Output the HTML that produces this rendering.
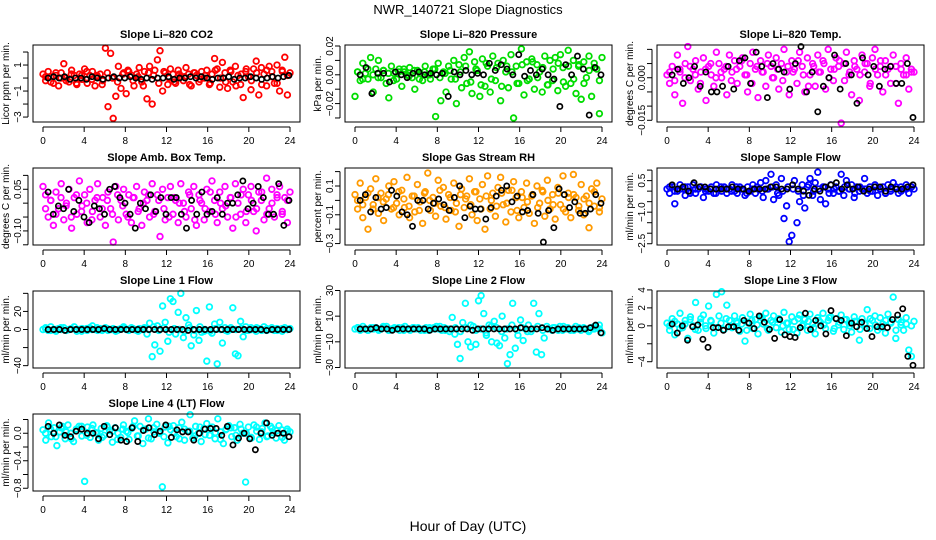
<!DOCTYPE html>
<html><head><meta charset="utf-8"><style>
html,body{margin:0;padding:0;background:#fff;}
svg{display:block;font-family:"Liberation Sans",sans-serif;}
</style></head><body>
<svg id="chart" width="936" height="540" viewBox="0 0 936 540">
<text x="468" y="14" text-anchor="middle" font-size="13">NWR_140721  Slope Diagnostics</text>
<text x="468" y="531" text-anchor="middle" font-size="14">Hour of Day (UTC)</text>
</svg>
<script>
const xTicks = [0,4,8,12,16,20,24];
const co2Vals = [0.3,-0.2,0.5,0.1,-0.4,0.2,-0.6,0.4,1.1,0.0,-0.3,0.6,0.2,-0.5,0.3,-0.1,0.7,-0.4,0.2,0.5,-0.6,0.1,0.3,-0.2,2.3,-2.2,1.9,-3.1,-1.4,0.9,-0.8,0.4,-1.2,0.5,0.2,-0.6,0.3,0.8,-0.3,0.5,-1.6,0.9,-2.0,0.6,1.4,2.1,-1.0,0.4,-0.5,0.7,0.3,-0.4,0.6,0.1,-0.2,0.8,0.3,-0.6,0.4,0.2,-0.3,0.5,0.0,0.6,-0.5,0.3,1.5,0.7,-0.7,1.2,0.4,-0.8,0.6,-0.3,0.9,0.2,-0.5,-1.5,0.5,0.1,-0.9,0.7,1.3,-1.3,0.8,0.3,-0.6,0.9,0.5,-0.4,1.0,-1.0,0.6,1.6,-1.3,0.4];
const co2Band = [0.1,-0.3,0.4,0.0,-0.2,0.3,-0.4,0.2,0.5,-0.1,0.2,-0.5,0.4,0.0,-0.3,0.3,0.6,-0.2,0.1,-0.6,0.4,0.2,-0.4,0.5,0.0,-0.3,0.3,0.1,-0.5,0.4,-0.1,0.2,-0.4,0.6,0.0,-0.3,0.5,-0.6,0.3,0.7,-0.2,0.4,-0.5,0.6,0.1,-0.4,0.5,0.2];
const co2Black = [0.0,0.1,0.0,0.1,-0.1,0.0,0.0,-0.1,0.1,0.0,-0.1,0.0,0.1,0.0,0.0,0.1,0.0,-0.1,0.0,-0.1,0.0,0.0,0.1,-0.1,0.0,0.0,0.1,0.0,0.1,0.0,-0.1,0.0,0.0,0.1,-0.1,0.0,0.0,0.1,0.0,-0.1,0.0,0.1,0.0,0.1,0.2];
const pressVals = [-0.015,0.002,-0.004,0.008,0.001,-0.003,0.012,-0.012,0.004,0.010,-0.002,0.003,-0.006,-0.016,0.006,0.001,-0.003,0.004,-0.008,0.002,0.000,0.005,-0.002,-0.010,0.003,0.001,-0.004,0.006,0.000,-0.003,0.004,-0.029,0.008,-0.018,0.002,-0.012,0.006,-0.003,0.010,-0.020,0.007,-0.009,0.012,-0.006,0.016,-0.013,0.009,0.003,-0.015,0.011,-0.008,0.006,-0.012,0.013,-0.004,0.008,-0.018,0.010,0.002,-0.009,0.014,-0.030,0.006,-0.006,0.018,-0.014,0.009,-0.003,0.011,-0.010,0.007,0.002,-0.012,0.013,-0.007,0.010,-0.004,0.012,-0.011,0.014,0.005,-0.008,0.017,-0.006,0.010,-0.013,0.006,-0.017,0.009,-0.002,0.013,-0.015,0.008,0.004,-0.027,0.012];
const pressBand = [0.002,-0.003,0.004,0.000,-0.002,0.003,0.001,-0.004,0.002,0.004,-0.001,0.003,-0.003,0.002,0.000,0.004,-0.002,0.001,0.003,-0.003,0.002,0.006,-0.005,0.004,-0.007,0.008,-0.003,0.005,-0.008,0.006,0.002,-0.006,0.007,-0.004,0.009,-0.002,0.005,-0.007,0.004,0.008,-0.005,0.006,-0.003,0.007,-0.006,0.003,0.005,-0.004];
const pressBlack = [0.000,0.005,-0.013,0.001,0.001,-0.005,0.002,0.000,-0.002,0.001,0.002,0.000,0.001,0.000,0.001,-0.015,0.002,0.000,0.003,0.000,0.001,0.000,0.008,0.003,0.007,0.004,0.000,0.014,-0.001,0.003,0.000,0.004,0.000,-0.003,-0.022,0.007,0.000,0.013,0.004,-0.028,0.005,0.000];
const tempVals = [0.001,-0.002,0.004,-0.006,0.008,0.002,-0.009,0.005,0.011,-0.001,0.003,0.006,-0.004,0.002,0.007,-0.008,0.004,0.001,-0.003,0.009,0.005,0.000,0.003,-0.006,0.008,0.002,0.006,-0.002,0.004,0.007,0.001,-0.005,0.005,0.009,0.003,-0.007,0.006,0.002,-0.003,0.008,0.004,0.000,0.007,-0.004,0.005,0.010,0.002,-0.006,0.006,0.003,-0.002,0.009,0.004,-0.005,0.007,0.001,0.005,-0.003,0.008,0.002,0.006,-0.004,0.010,0.003,-0.001,0.007,0.004,-0.016,0.005,0.009,0.001,-0.006,0.006,0.003,-0.008,0.008,0.002,0.005,-0.003,0.007,0.010,0.001,0.004,-0.005,0.006,0.003,-0.002,0.008,0.004,-0.009,0.005,0.001,0.007,-0.004,0.003,0.002];
const tempBand = [0.002,-0.001,0.003,0.000,0.004,0.001,-0.002,0.003,0.005,0.000,0.002,0.004,-0.001,0.003,0.006,0.001,-0.002,0.004,0.002,0.005,0.000,0.003,-0.001,0.004,0.002,0.006,0.001,-0.003,0.004,0.002,0.005,0.000,0.003,0.006,-0.001,0.002,0.004,0.001,0.005,-0.002,0.003,0.006,0.001,0.004,-0.002,0.003,0.001,0.002];
const tempBlack = [0.001,0.003,-0.002,0.000,0.004,-0.003,0.002,-0.005,-0.005,-0.003,0.004,-0.004,0.006,0.007,-0.002,0.009,0.004,-0.007,0.005,0.003,0.002,-0.004,0.005,0.011,-0.005,0.002,-0.012,-0.003,0.000,0.008,-0.004,0.005,0.001,-0.009,0.007,0.001,0.004,-0.003,0.003,0.004,-0.002,-0.002,0.005,-0.014];
const ambVals = [0.06,0.03,-0.05,0.01,-0.08,0.04,-0.02,0.07,-0.06,0.00,0.05,-0.09,0.02,-0.04,0.08,-0.01,0.03,-0.07,0.05,-0.03,0.01,0.07,-0.05,0.02,-0.08,0.04,-0.02,-0.14,0.06,-0.06,0.01,0.05,-0.04,0.03,-0.07,0.02,0.06,-0.02,-0.08,0.04,0.01,-0.05,0.07,-0.03,0.03,-0.12,0.05,-0.06,0.02,0.06,-0.04,0.01,-0.07,0.07,0.00,-0.05,0.04,-0.02,0.06,-0.08,0.03,0.00,-0.06,0.05,-0.03,0.08,0.01,-0.07,0.04,-0.02,0.06,-0.05,0.02,-0.09,0.07,0.00,-0.04,0.05,-0.07,0.03,0.06,-0.03,-0.10,0.04,0.01,-0.06,0.09,-0.02,0.05,-0.05,0.03,0.06,-0.04,0.02,-0.07,0.04];
const ambBand = [-0.02,0.01,-0.04,0.02,-0.01,-0.05,0.03,-0.03,0.00,-0.06,0.02,-0.02,0.01,-0.04,0.03,-0.01,-0.05,0.02,-0.03,0.00,0.03,-0.04,0.01,-0.02,-0.05,0.02,0.00,-0.03,0.03,-0.06,0.01,-0.02,0.04,-0.04,0.00,-0.01,0.02,-0.05,0.03,-0.03,0.01,-0.02,0.04,-0.04,0.00,0.02,-0.03,0.01];
const ambBlack = [0.04,-0.04,-0.01,-0.02,0.05,-0.03,0.01,-0.05,-0.07,-0.01,-0.02,-0.04,0.05,0.06,0.02,0.00,-0.04,-0.09,0.00,-0.02,0.03,-0.03,0.02,-0.04,0.02,0.02,-0.04,-0.09,0.01,-0.04,0.04,-0.04,-0.03,0.02,-0.04,0.00,0.00,0.03,0.08,-0.02,0.00,0.06,0.02,-0.04,-0.04,0.07,-0.08,0.01];
const rhVals = [0.04,-0.06,0.12,-0.12,0.02,-0.2,0.08,-0.03,0.15,-0.09,0.05,-0.14,0.01,0.10,-0.06,0.13,-0.02,-0.1,0.07,-0.05,0.16,-0.12,0.03,-0.08,0.11,-0.01,-0.16,0.06,0.19,-0.07,0.02,-0.11,0.14,-0.04,0.09,-0.13,0.04,-0.07,0.12,-0.02,-0.18,0.08,-0.05,0.03,0.15,-0.1,0.06,-0.14,0.01,0.11,-0.2,0.17,-0.06,0.05,-0.11,0.09,0.16,-0.03,-0.15,0.07,-0.08,0.13,0.02,-0.12,0.06,-0.05,0.12,-0.09,0.03,-0.16,0.10,-0.02,0.07,-0.11,0.14,-0.06,0.04,-0.13,0.09,-0.03,0.17,-0.08,0.05,-0.12,0.18,0.02,-0.07,0.11,-0.1,0.03,-0.19,0.08,-0.04,0.12,-0.08,0.01];
const rhBand = [0.0,-0.03,0.05,-0.06,0.02,-0.01,0.04,-0.05,0.06,0.01,-0.04,0.03,-0.07,0.05,0.0,-0.02,0.07,-0.05,0.02,-0.08,0.04,0.01,-0.03,0.06,-0.06,0.03,0.0,-0.04,0.05,-0.02,0.07,-0.07,0.02,-0.01,0.04,-0.05,0.06,0.0,-0.03,0.05,-0.06,0.02,0.04,-0.04,0.01,-0.02,0.06,-0.05];
const rhBlack = [0.0,0.04,-0.08,0.02,-0.06,-0.05,0.07,0.03,-0.08,-0.1,-0.18,0.00,0.0,-0.06,-0.02,0.01,-0.03,-0.07,0.02,0.10,-0.12,-0.04,-0.06,-0.06,-0.13,-0.05,0.03,0.07,0.10,-0.01,0.03,-0.08,-0.07,0.04,-0.09,-0.29,-0.07,-0.19,0.08,0.04,-0.05,-0.01,-0.09,-0.09,-0.06,0.04,-0.02];
const sfVals = [0.1,-0.1,0.2,-0.6,0.0,0.3,0.1,-0.2,0.2,0.0,0.3,-0.1,0.1,0.2,-0.3,0.1,0.0,0.2,-0.1,0.3,0.1,0.0,0.2,-0.1,0.1,0.3,0.0,-0.1,0.2,0.1,-0.2,0.2,0.0,0.3,-0.1,0.1,0.4,-0.3,0.5,0.1,0.8,-0.4,0.3,-0.2,0.6,-1.3,-0.7,-2.4,-2.1,0.5,-1.5,-0.5,0.3,-0.8,0.2,0.6,-0.2,0.4,0.9,-0.4,0.2,-0.6,0.1,0.3,-0.1,0.2,0.0,0.8,-0.2,0.5,0.1,0.3,-0.3,0.2,0.0,0.1,0.6,-0.1,0.2,0.0,0.3,-0.2,0.1,0.2,-0.1,0.3,0.0,0.4,0.1,-0.1,0.2,0.1,0.3,-0.1,0.2,0.1];
const sfBand = [0.2,0.0,0.1,0.2,-0.1,0.1,0.2,0.0,0.1,-0.1,0.2,0.1,0.0,0.2,0.1,-0.1,0.1,0.2,0.0,0.1,0.2,-0.1,0.0,0.2,0.1,0.0,-0.2,0.3,0.0,0.1,0.2,-0.1,0.1,0.0,0.2,0.1,-0.1,0.2,0.1,0.0,0.2,0.1,-0.1,0.1,0.2,0.0,0.1,0.2];
const sfBlack = [0.3,0.1,0.2,0.0,0.4,0.2,0.2,0.1,0.1,0.1,0.1,0.2,0.1,0.1,0.0,0.1,0.1,0.1,0.2,0.2,0.1,0.1,0.3,0.1,0.0,-0.2,0.1,0.0,0.2,0.3,0.4,0.1,0.3,0.1,0.2,0.0,0.1,0.2,0.2,0.0,0.2,0.1,0.1,0.2,0.3];
const l1Vals = [0,2,-1,3,0,-2,1,0,2,-1,0,1,3,-2,0,1,0,-1,2,4,0,-1,1,0,2,-1,0,1,-2,0,1,3,0,-1,2,0,-1,1,0,2,-5,7,-30,-17,4,-24,26,8,-13,34,31,-5,19,40,-9,13,5,-18,-6,21,-12,-3,-2,-35,25,-4,6,-38,8,-15,2,-2,0,24,-27,-29,9,-8,3,-1,2,0,-2,1,0,3,-1,0,2,-1,1,0,-2,2,0,1];
const l1Band = [1,-1,0,2,-1,1,0,-2,1,0,2,-1,1,0,-1,2,0,1,-2,1,0,3,-1,2,-3,1,0,-2,2,-1,3,0,-2,1,0,-1,2,0,1,-1,0,2,-1,1,0,-1,1,0];
const l1Black = [0,0,0,-1,0,0,0,0,0,0,1,0,0,0,0,0,0,0,0,0,0,0,0,0,0,-1,0,0,0,0,0,0,0,0,0,0,0,0,0,-1,0,0,0,0];
const l2Vals = [0,1,-1,2,0,-1,1,0,1,-1,0,1,2,-1,0,1,0,-1,1,2,0,-1,1,0,1,-1,0,1,-1,0,1,2,0,-1,1,0,-2,9,-4,-12,-23,5,20,-10,-14,2,-12,22,26,12,-5,3,-10,6,-11,-13,10,-7,-27,-20,20,-15,-5,7,-9,0,3,-2,20,-18,12,-20,-7,2,0,-1,1,0,2,-1,0,1,-1,0,2,0,-1,1,0,-2,1,0,1,3,-3];
const l2Band = [1,0,-1,1,0,2,-1,0,1,-1,0,1,0,-1,1,0,2,-1,0,1,-2,1,3,-1,0,-3,2,1,-2,0,3,-1,1,-2,0,2,-1,0,1,-1,2,0,-1,1,0,-1,2,0];
const l2Black = [0,0,0,1,0,0,-1,0,0,0,0,0,0,-1,0,0,0,0,0,0,0,-1,0,0,0,0,0,0,0,0,1,0,0,0,1,0,-1,0,0,0,0,0,0,1,3,-3];
const l3Vals = [0.3,-0.5,0.8,-1.0,0.2,1.4,-0.2,0.6,-1.4,1.0,0.0,2.6,-0.5,0.8,1.2,-0.3,2.2,0.5,-0.8,3.5,1.1,3.8,-0.4,2.3,0.6,-0.2,1.1,0.3,-0.6,0.9,-1.7,0.4,1.3,-0.3,0.7,-0.9,1.0,0.2,1.4,-0.5,0.6,1.1,-0.2,0.8,-0.7,1.5,0.3,-0.4,1.0,0.5,-0.8,1.2,0.0,0.7,-0.5,1.3,0.2,-0.9,0.9,0.4,1.4,-0.3,0.6,1.0,-0.6,0.8,0.1,1.2,-0.4,0.7,0.3,-0.7,1.0,0.5,-1.6,0.8,0.2,1.8,-0.3,0.6,1.1,-0.5,0.9,0.2,-0.8,1.3,0.4,3.2,-1.4,0.7,0.1,-0.5,0.9,-2.7,-3.4,0.5];
const l3Band = [0.0,0.5,-0.3,0.2,0.7,-0.4,0.4,0.0,0.6,-0.2,0.3,0.8,-0.1,0.5,0.2,-0.5,0.6,0.1,0.9,-0.3,0.4,0.7,0.0,0.3,-0.4,0.8,0.2,0.5,-0.2,0.6,0.1,0.9,-0.3,0.4,0.7,0.0,0.5,-0.4,0.3,0.8,0.1,-0.2,0.6,0.3,-0.5,0.4,0.2,0.0];
const l3Black = [0.2,-0.8,0.0,-1.6,-0.1,0.1,-1.5,-2.4,-0.2,-0.2,-0.5,-0.1,-0.1,-0.5,0.6,0.3,-0.3,1.1,0.4,-0.4,-1.4,0.7,-1.0,-1.2,-1.3,-0.2,1.4,-0.4,0.6,0.0,-0.9,1.7,0.8,0.6,-1.1,0.3,-0.1,0.4,-0.3,-1.2,-0.1,-0.1,-0.2,0.7,1.2,1.9,-3.4,-4.4];
const l4Vals = [0.05,-0.1,0.15,-0.05,0.08,-0.18,0.02,0.1,-0.08,0.12,0.0,-0.12,0.06,0.1,-0.04,-0.7,0.09,-0.06,0.12,0.01,-0.1,0.07,-0.03,0.11,0.04,-0.13,0.08,0.0,-0.06,0.12,0.03,-0.09,0.07,0.18,-0.04,0.1,-0.15,0.06,0.21,-0.08,0.02,0.13,0.0,-0.78,0.09,-0.14,0.05,0.11,-0.05,0.08,0.16,-0.1,0.03,0.27,-0.07,0.1,0.0,-0.12,0.07,0.14,-0.03,0.09,-0.08,0.21,0.02,-0.15,0.06,0.11,-0.05,0.08,-0.1,0.13,0.0,-0.71,0.09,-0.06,0.12,0.03,-0.09,0.07,0.15,-0.04,0.1,0.01,-0.07,0.11,0.05,-0.1,0.06,0.02];
const l4Band = [0.0,0.06,-0.05,0.08,0.02,-0.08,0.05,0.1,-0.03,0.07,0.0,-0.06,0.09,0.03,-0.09,0.06,0.01,0.1,-0.04,0.05,-0.07,0.08,0.02,-0.05,0.1,0.0,-0.08,0.06,0.03,-0.04,0.09,-0.02,0.07,0.01,-0.09,0.05,0.08,-0.03,0.06,0.0,-0.07,0.09,0.02,-0.05,0.07,0.04,-0.06,0.03];
const l4Black = [0.1,0.0,0.12,-0.03,-0.05,0.03,0.06,0.0,0.0,-0.08,0.1,-0.02,0.08,-0.1,-0.12,0.08,-0.12,0.04,0.08,-0.02,0.03,0.12,-0.06,0.05,0.02,0.02,-0.1,0.0,0.06,0.07,0.07,-0.03,0.1,-0.17,-0.07,0.0,-0.08,-0.24,0.0,0.15,-0.03,0.0,0.0,-0.05];

const panels = [
 {name:'co2',title:'Slope Li\u2013820 CO2',ylab:'Licor ppm per min.',col:0,row:0,dom:[-3.38,2.54],ticks:[-3,-2,-1,0,1,2],labels:[-3,-1,1],fmt:v=>v<0?'\u2212'+(-v):''+v,vals:co2Vals,band:co2Band,blk:co2Black,color:'#ff0000'},
 {name:'pressure',title:'Slope Li\u2013820 Pressure',ylab:'kPa per min.',col:1,row:0,dom:[-0.0328,0.0207],ticks:[-0.03,-0.02,-0.01,0,0.01,0.02],labels:[-0.02,0,0.02],fmt:v=>v<0?'\u2212'+(-v).toFixed(2):v.toFixed(2),vals:pressVals,band:pressBand,blk:pressBlack,color:'#00dd00'},
 {name:'temp',title:'Slope Li\u2013820 Temp.',ylab:'degrees C per min.',col:2,row:0,dom:[-0.0156,0.01154],ticks:[-0.015,-0.01,-0.005,0,0.005,0.01],labels:[-0.015,0],fmt:v=>v<0?'\u2212'+(-v).toFixed(3):v.toFixed(3),vals:tempVals,band:tempBand,blk:tempBlack,color:'#ff00ff'},
 {name:'amb-box-temp',title:'Slope Amb. Box Temp.',ylab:'degrees C per min.',col:0,row:1,dom:[-0.1507,0.1266],ticks:[-0.15,-0.1,-0.05,0,0.05,0.1],labels:[-0.1,0.05],fmt:v=>v<0?'\u2212'+(-v).toFixed(2):v.toFixed(2),vals:ambVals,band:ambBand,blk:ambBlack,color:'#ff00ff'},
 {name:'gas-rh',title:'Slope Gas Stream RH',ylab:'percent per min.',col:1,row:1,dom:[-0.31,0.225],ticks:[-0.3,-0.2,-0.1,0,0.1,0.2],labels:[-0.3,-0.1,0.1],fmt:v=>v<0?'\u2212'+(-v).toFixed(1):v.toFixed(1),vals:rhVals,band:rhBand,blk:rhBlack,color:'#ff9a00'},
 {name:'sample-flow',title:'Slope Sample Flow',ylab:'ml/min per min.',col:2,row:1,dom:[-2.56,1.1],ticks:[-2.5,-2,-1.5,-1,-0.5,0,0.5,1],labels:[-2.5,-1.0,0.5],fmt:v=>v<0?'\u2212'+(-v).toFixed(1):v.toFixed(1),vals:sfVals,band:sfBand,blk:sfBlack,color:'#0000ff'},
 {name:'line1-flow',title:'Slope Line 1 Flow',ylab:'ml/min per min.',col:0,row:2,dom:[-42.6,42.6],ticks:[-40,-20,0,20,40],labels:[-40,0,20],fmt:v=>v<0?'\u2212'+(-v):''+v,vals:l1Vals,band:l1Band,blk:l1Black,color:'#00ffff'},
 {name:'line2-flow',title:'Slope Line 2 Flow',ylab:'ml/min per min.',col:1,row:2,dom:[-30.4,29.6],ticks:[-30,-10,10,30],labels:[-30,-10,10,30],fmt:v=>v<0?'\u2212'+(-v):''+v,vals:l2Vals,band:l2Band,blk:l2Black,color:'#00ffff'},
 {name:'line3-flow',title:'Slope Line 3 Flow',ylab:'ml/min per min.',col:2,row:2,dom:[-4.7,3.88],ticks:[-4,-2,0,2,4],labels:[-4,0,2,4],fmt:v=>v<0?'\u2212'+(-v):''+v,vals:l3Vals,band:l3Band,blk:l3Black,color:'#00ffff'},
 {name:'line4-flow',title:'Slope Line 4 (LT) Flow',ylab:'ml/min per min.',col:0,row:3,dom:[-0.84,0.28],ticks:[-0.8,-0.6,-0.4,-0.2,0,0.2],labels:[-0.8,-0.4,0],fmt:v=>v<0?'\u2212'+(-v).toFixed(1):v.toFixed(1),vals:l4Vals,band:l4Band,blk:l4Black,color:'#00ffff'}
];

const NS='http://www.w3.org/2000/svg';
const svg=document.getElementById('chart');
function mk(tag,attrs,parent){const e=document.createElementNS(NS,tag);for(const k in attrs)e.setAttribute(k,attrs[k]);(parent||svg).appendChild(e);return e;}
const colLeft=[33,345,657], rowTop=[45,168,291,414], W=267, H=77;

panels.forEach(p=>{
  const L=colLeft[p.col], T=rowTop[p.row], R=L+W, B=T+H;
  const xs=h=>L+10+(h/24)*247;
  const ys=v=>B-(v-p.dom[0])/(p.dom[1]-p.dom[0])*H;
  const g=mk('g',{});
  
  
  const t=mk('text',{x:(L+R)/2,y:T-7,'text-anchor':'middle','font-size':11,'font-weight':'bold'},g);
  t.textContent=p.title;
  
  
  const yl=mk('text',{x:0,y:0,'text-anchor':'middle','font-size':10,transform:`translate(${L-24},${(T+B)/2}) rotate(-90)`},g);
  yl.textContent=p.ylab;
  
  
  const sc=mk('g',{fill:'none',stroke:p.color,'stroke-width':1.8},g);
  
  
  const n=p.vals.length;
  p.vals.forEach((v,i)=>{
    const c=mk('circle',{cx:xs(i/(n-1)*24),cy:ys(v),r:2.8},sc);
    
    
  });
  const nb=p.band.length;
  p.band.forEach((v,i)=>{
    const c=mk('circle',{cx:xs(0.25+i/(nb-1)*23.5),cy:ys(v),r:2.8},sc);
    
    
  });
  const sb=mk('g',{fill:'none',stroke:'#000','stroke-width':1.7},g);
  
  
  const m=p.blk.length;
  p.blk.forEach((v,i)=>{
    const c=mk('circle',{cx:xs(0.5+i/(m-1)*23.4),cy:ys(v),r:2.6},sb);
    
    
  });
  const box=mk('rect',{x:L,y:T,width:W,height:H,fill:'none',stroke:'#000','stroke-width':1},g);
  
  
  const xa=mk('g',{stroke:'#000','stroke-width':1},g);
  
  
  mk('line',{x1:xs(0),x2:xs(24),y1:B+5,y2:B+5},xa);
  xTicks.forEach(h=>{
    mk('line',{x1:xs(h),x2:xs(h),y1:B+5,y2:B+10},xa);
    const tl=mk('text',{x:xs(h),y:B+22,'text-anchor':'middle','font-size':10,stroke:'none',fill:'#000'},xa);
    tl.textContent=h;
    
    
  });
  const ya=mk('g',{stroke:'#000','stroke-width':1},g);
  
  
  const tmin=Math.min(...p.ticks), tmax=Math.max(...p.ticks);
  mk('line',{x1:L-5,x2:L-5,y1:ys(tmin),y2:ys(tmax)},ya);
  p.ticks.forEach(v=>{ mk('line',{x1:L-10,x2:L-5,y1:ys(v),y2:ys(v)},ya); });
  p.labels.forEach(v=>{
    const tl=mk('text',{x:0,y:0,'text-anchor':'middle','font-size':10,stroke:'none',fill:'#000',transform:`translate(${L-12},${ys(v)}) rotate(-90)`},ya);
    tl.textContent=p.fmt(v);
    
    
  });
});
</script>
</body></html>
